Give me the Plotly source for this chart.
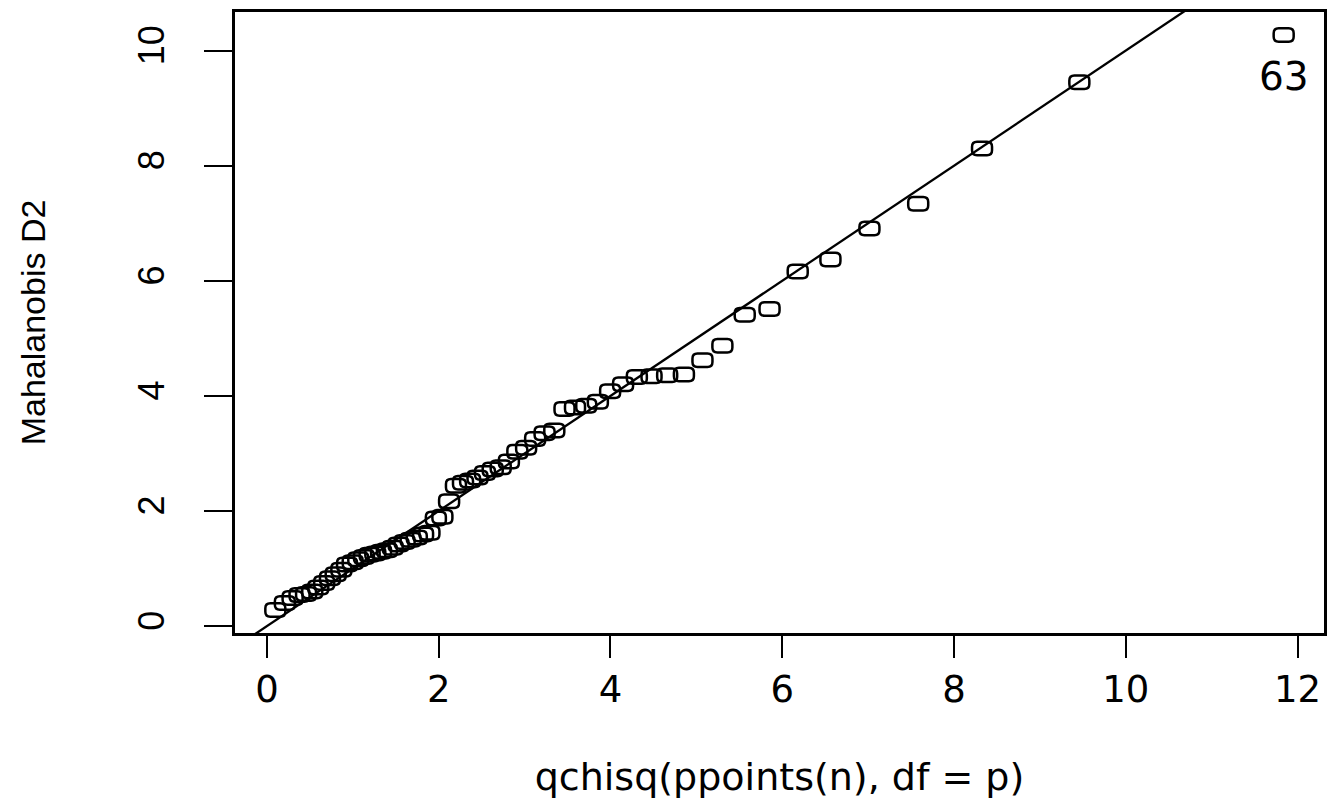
import plotly.graph_objects as go

# Theoretical chi-square quantiles (x) and sorted Mahalanobis D2 values (y)
theoretical_q = [
    0.098, 0.209, 0.299, 0.380, 0.456, 0.528, 0.598, 0.667, 0.734, 0.801,
    0.867, 0.933, 0.999, 1.064, 1.130, 1.196, 1.262, 1.329, 1.397, 1.465,
    1.533, 1.603, 1.674, 1.745, 1.818, 1.892, 1.967, 2.043, 2.121, 2.201,
    2.283, 2.366, 2.452, 2.539, 2.629, 2.722, 2.817, 2.916, 3.018, 3.123,
    3.233, 3.346, 3.465, 3.587, 3.718, 3.853, 3.996, 4.147, 4.307, 4.478,
    4.660, 4.855, 5.071, 5.303, 5.563, 5.852, 6.180, 6.561, 7.015, 7.583,
    8.326, 9.459, 11.838,
]
mahalanobis_d2 = [
    0.28, 0.40, 0.49, 0.54, 0.56, 0.60, 0.67, 0.75, 0.83, 0.90,
    0.98, 1.07, 1.11, 1.16, 1.20, 1.24, 1.26, 1.29, 1.32, 1.36,
    1.42, 1.46, 1.50, 1.54, 1.59, 1.62, 1.87, 1.90, 2.17, 2.44,
    2.49, 2.53, 2.58, 2.66, 2.72, 2.76, 2.86, 3.03, 3.10, 3.25,
    3.35, 3.40, 3.77, 3.80, 3.83, 3.90, 4.08, 4.20, 4.33, 4.34,
    4.36, 4.37, 4.62, 4.87, 5.41, 5.51, 6.16, 6.37, 6.91, 7.34,
    8.30, 9.45, 10.27,
]
outlier_label = "63"
abline_intercept = 0.0
abline_slope = 1.0
x_tick_values = [0, 2, 4, 6, 8, 10, 12]
y_tick_values = [0, 2, 4, 6, 8, 10]
x_title = "qchisq(ppoints(n), df = p)"
y_title = "Mahalanobis D2"

# R-style axis ranges (data range extended by 4%)
def r_range(vals):
    lo, hi = min(vals), max(vals)
    pad = 0.04 * (hi - lo)
    return [lo - pad, hi + pad]

xr = r_range(theoretical_q)
yr = r_range(mahalanobis_d2)

H_FONT = "DejaVu Sans, Liberation Sans, Arial, sans-serif"
V_FONT = "Liberation Sans Narrow, Arial Narrow, Liberation Sans, Arial, sans-serif"

fig = go.Figure()

# reference line y = a + b x
line_x = [xr[0] - 1, xr[1] + 1]
fig.add_trace(go.Scatter(
    x=line_x,
    y=[abline_intercept + abline_slope * v for v in line_x],
    mode="lines",
    line=dict(color="black", width=2.3),
    hoverinfo="skip",
    showlegend=False,
))

# open point glyphs (rounded, slightly wide like the original device output)
glyph = ("M -5,6.75 L 5,6.75 Q 10,6.75 10,1.75 L 10,-1.75 Q 10,-6.75 5,-6.75 "
         "L -5,-6.75 Q -10,-6.75 -10,-1.75 L -10,1.75 Q -10,6.75 -5,6.75 Z")
shapes = []
for xv, yv in zip(theoretical_q, mahalanobis_d2):
    shapes.append(dict(
        type="path", path=glyph,
        xref="x", yref="y",
        xsizemode="pixel", ysizemode="pixel",
        xanchor=xv, yanchor=yv,
        line=dict(color="black", width=2.5),
        fillcolor="rgba(0,0,0,0)",
        layer="above",
    ))

fig.update_layout(
    width=1335, height=808,
    margin=dict(l=235, r=8, t=12, b=175),
    paper_bgcolor="white", plot_bgcolor="white",
    showlegend=False,
    shapes=shapes,
    annotations=[dict(
        x=theoretical_q[-1], y=mahalanobis_d2[-1], xref="x", yref="y",
        text=outlier_label, showarrow=False, yshift=-41,
        font=dict(family=H_FONT, size=39, color="black"),
    )],
    xaxis=dict(
        range=xr, tickvals=x_tick_values,
        ticktext=[str(v) for v in x_tick_values],
        showgrid=False, zeroline=False,
        showline=True, linecolor="black", linewidth=2.5, mirror=True,
        ticks="outside", ticklen=22, tickwidth=2.3, tickcolor="black",
        tickfont=dict(family=H_FONT, size=37, color="black"),
        title=dict(text=x_title, font=dict(family=H_FONT, size=38, color="black"), standoff=54),
    ),
    yaxis=dict(
        range=yr, tickvals=y_tick_values,
        ticktext=[str(v) for v in y_tick_values],
        showgrid=False, zeroline=False,
        showline=True, linecolor="black", linewidth=2.5, mirror=True,
        ticks="outside", ticklen=28, tickwidth=2.3, tickcolor="black",
        tickangle=-90, ticklabelstandoff=26,
        tickfont=dict(family=V_FONT, size=36, color="black"),
        title=dict(text=y_title, font=dict(family=V_FONT, size=34, color="black"), standoff=75),
    ),
)

fig.write_html("out.html")
